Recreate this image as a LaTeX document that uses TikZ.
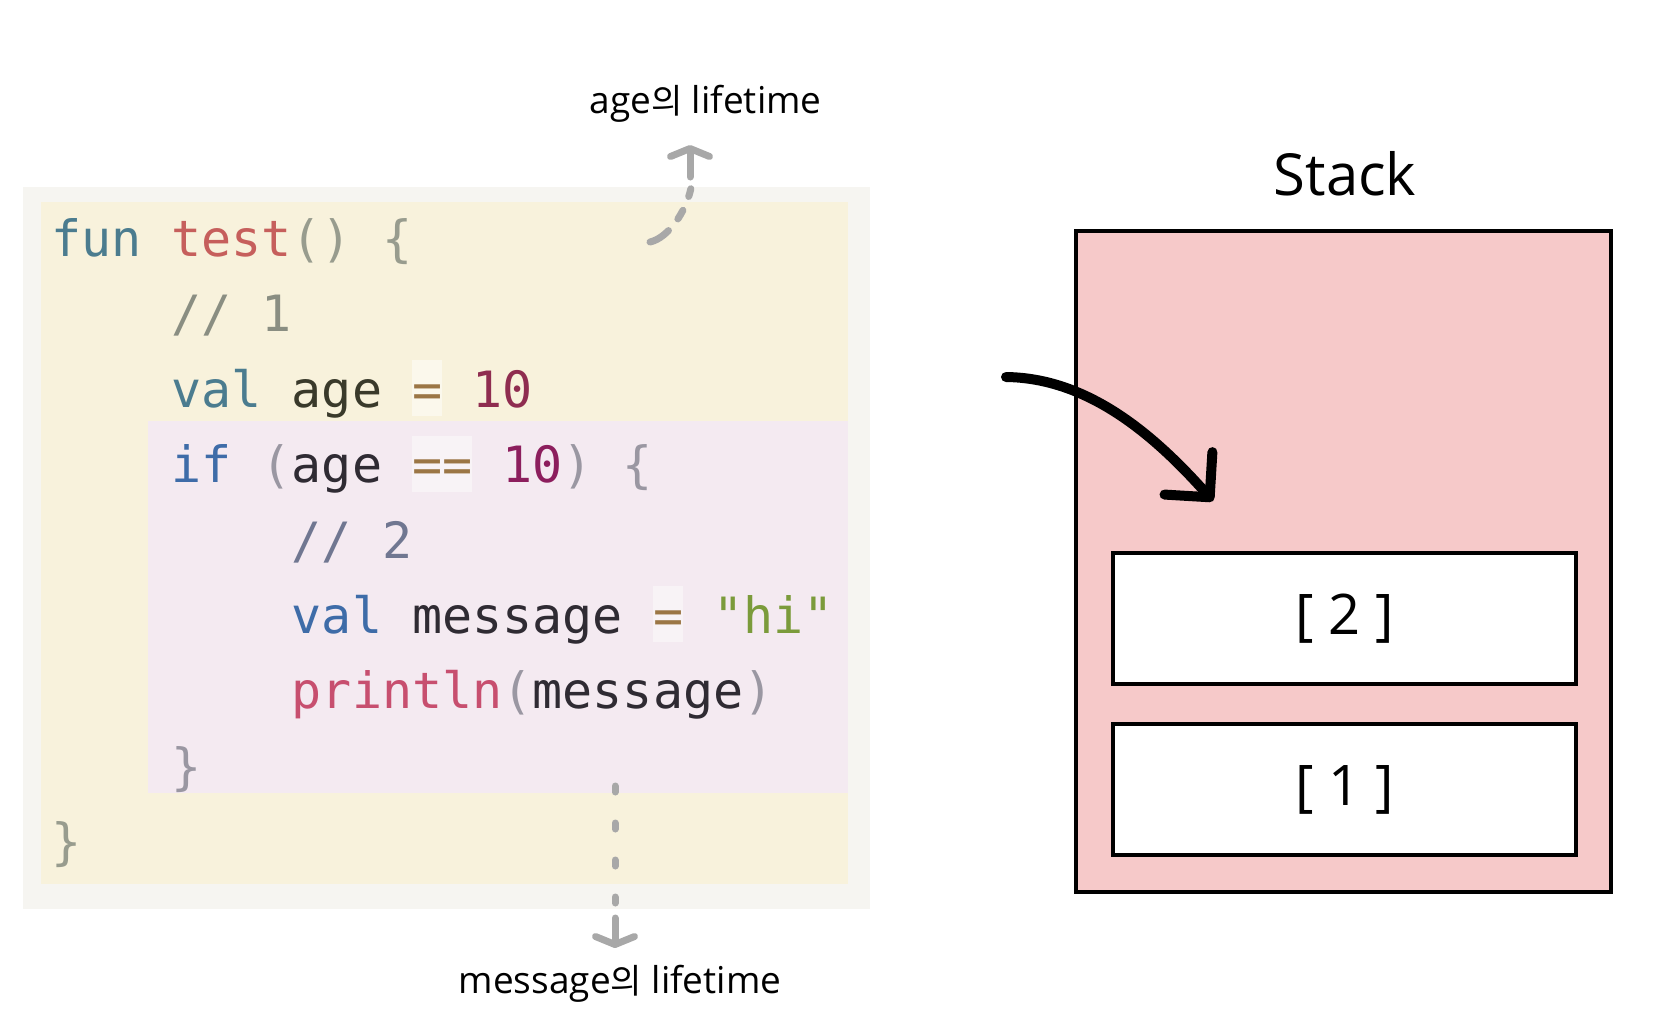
\documentclass[tikz,border=0pt]{standalone}
\usepackage{fontspec}
\setmainfont{Open Sans}
\newfontfamily\krfont[Scale=0.92]{Noto Sans CJK KR}
\newfontfamily\codefont{DejaVu Sans Mono}
\usetikzlibrary{arrows.meta}

\definecolor{panelgray}{HTML}{F6F5F1}
\definecolor{funbg}{HTML}{F8F2DC}
\definecolor{ifbg}{HTML}{F4EAF1}
\definecolor{stackpink}{HTML}{F6C9C9}
\definecolor{lifegray}{HTML}{A8A8A8}
\definecolor{kwA}{HTML}{4B7C8F}
\definecolor{fnA}{HTML}{C65F5C}
\definecolor{punA}{HTML}{989C8E}
\definecolor{cmtA}{HTML}{8A8E82}
\definecolor{idA}{HTML}{3A3A2B}
\definecolor{opc}{HTML}{9B7645}
\definecolor{numA}{HTML}{8F2D50}
\definecolor{kwB}{HTML}{3E6CA8}
\definecolor{punB}{HTML}{9A97A2}
\definecolor{cmtB}{HTML}{707791}
\definecolor{numB}{HTML}{8C1E5D}
\definecolor{idB}{HTML}{2F2B33}
\definecolor{strB}{HTML}{7B9B3B}
\definecolor{fnB}{HTML}{C74F6F}
\definecolor{hlA}{HTML}{FBF8EC}
\definecolor{hlB}{HTML}{F8F3F6}

\newcommand{\tk}[2]{\textcolor{#1}{#2}}
\newcommand{\hl}[2]{{\setlength{\fboxsep}{0pt}\colorbox{#1}{\rule[-0.18em]{0pt}{1.12em}#2}}}

\begin{document}
\begin{tikzpicture}
[x=0.5pt,y=-0.5pt]
\tikzset{codeline/.style={anchor=base west,inner sep=0pt,font=\codefont\fontsize{25}{30}\selectfont}}
\tikzset{lbl/.style={anchor=base,inner sep=0pt,font=\fontsize{18.5}{22}\selectfont}}
\tikzset{slot/.style={draw,fill=white,line width=2pt,minimum width=231.5pt,minimum height=65.5pt,inner sep=0pt,font=\fontsize{28}{34}\selectfont}}
\tikzset{lifedash/.style={draw=lifegray,line width=3.5pt,line cap=round}}
\tikzset{lifehead/.style={draw=lifegray,line width=3.5pt,line cap=round,-{Straight Barb[round,length=4pt,width=19.5pt]}}}
\useasboundingbox (0,0) rectangle (1654,1034);

% code panel
\fill[panelgray] (23,187) rectangle (870,909);
\fill[funbg] (41,202) rectangle (848,884);
\fill[ifbg] (148,421) rectangle (848,793);

\node[codeline] (l1) at (50.6,256.4) {\tk{kwA}{fun} \tk{fnA}{test}\tk{punA}{()} \tk{punA}{\{}};
\node[codeline] (l2) at (171,331.8) {\tk{cmtA}{// 1}};
\node[codeline] (l3) at (171,407.2) {\tk{kwA}{val} \tk{idA}{age} \hl{hlA}{\tk{opc}{=}} \tk{numA}{10}};
\node[codeline] (l4) at (171,482.6) {\tk{kwB}{if} \tk{punB}{(}\tk{idB}{age} \hl{hlB}{\tk{opc}{==}} \tk{numB}{10}\tk{punB}{)} \tk{punB}{\{}};
\node[codeline] (l5) at (291.4,558) {\tk{cmtB}{// 2}};
\node[codeline] (l6) at (291.4,633.4) {\tk{kwB}{val} \tk{idB}{message} \hl{hlB}{\tk{opc}{=}} \tk{strB}{"hi"}};
\node[codeline] (l7) at (291.4,708.8) {\tk{fnB}{println}\tk{punB}{(}\tk{idB}{message}\tk{punB}{)}};
\node[codeline] (l8) at (171,784.2) {\tk{punB}{\}}};
\node[codeline] (l9) at (50.6,859.6) {\tk{punA}{\}}};

% lifetimes
\node[lbl] (agelbl) at (705.5,113) {age{\krfont 의} lifetime};
\node[lbl] (msglbl) at (620,993) {message{\krfont 의} lifetime};
\coordinate (agefrom) at (650,242);
\coordinate (agebend) at (691,188);
\coordinate (agestem) at (690,177);
\coordinate (agetip) at (690,145);
\draw[lifedash,dash pattern=on 11pt off 7.5pt on 5pt off 7.5pt on 4pt off 20pt] (agefrom) .. controls (668,238) and (686,212) .. (agebend);
\draw[lifehead] (agestem) -- (agetip);
\coordinate (msgfrom) at (615,786);
\coordinate (msgbend) at (615,905);
\coordinate (msgstem) at (615,918);
\coordinate (msgtip) at (615,948);
\draw[lifedash,dash pattern=on 3pt off 15.5pt] (msgfrom) -- (msgbend);
\draw[lifehead] (msgstem) -- (msgtip);

% stack
\node[anchor=base,inner sep=0pt,font=\fontsize{29}{35}\selectfont] (stacklbl) at (1345,195) {Stack};
\node[draw,fill=stackpink,line width=1.75pt,minimum width=267.5pt,minimum height=330.5pt] (stack) at (1343.5,561.5) {};
\node[slot] (slot2) at (1344.5,618.5) {[ 2 ]};
\node[slot] (slot1) at (1344.5,789.5) {[ 1 ]};
\coordinate (push) at (1006,377);
\coordinate (pushend) at (1213,501);
\draw[line width=5pt,line cap=round,-{Straight Barb[round,length=16pt,width=32pt]}] (push) .. controls (1085,378) and (1150,430) .. (pushend);
\end{tikzpicture}
\end{document}
